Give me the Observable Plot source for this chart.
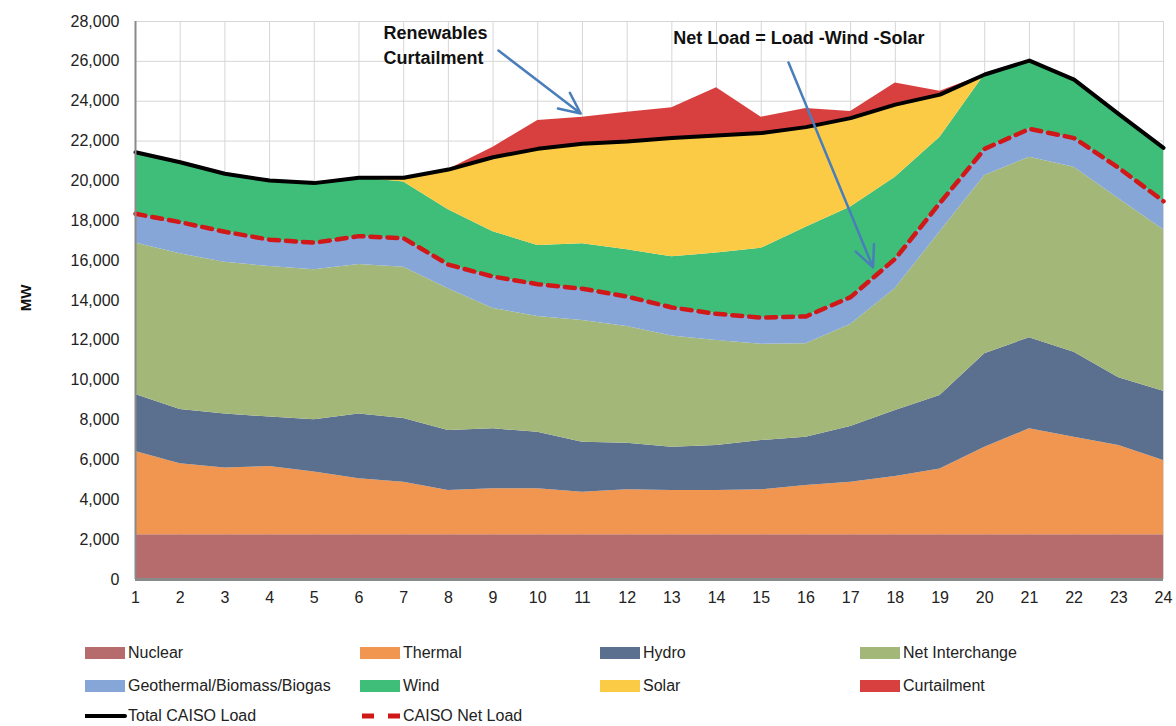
<!DOCTYPE html>
<html>
<head>
<meta charset="utf-8">
<script src="https://cdn.jsdelivr.net/npm/d3@7"></script>
<script src="https://cdn.jsdelivr.net/npm/@observablehq/plot@0.6"></script>
<style>
  html, body { margin: 0; padding: 0; background: #fff; }
  body { width: 1176px; height: 726px; overflow: hidden; font-family: "Liberation Sans", Arial, sans-serif; }
  #legend { position: relative; width: 1176px; height: 106px; font-size: 16px; color: #222; }
  .item { position: absolute; display: flex; align-items: center; white-space: nowrap; transform: translateY(-50%); }
  .sw { width: 40px; height: 12px; margin-right: 3px; }
</style>
</head>
<body>
<div id="chart"></div>
<div id="legend"></div>
<script>
const hours = [1,2,3,4,5,6,7,8,9,10,11,12,13,14,15,16,17,18,19,20,21,22,23,24];
const nuclear = [2250,2250,2250,2250,2250,2250,2250,2250,2250,2250,2250,2250,2250,2250,2250,2250,2250,2250,2250,2250,2250,2250,2250,2250];
const thermal = [4170,3560,3340,3420,3140,2800,2630,2220,2300,2300,2130,2250,2220,2220,2250,2470,2630,2920,3300,4390,5310,4890,4470,3720];
const hydro = [2860,2720,2720,2480,2620,3260,3200,3010,3010,2840,2510,2340,2170,2250,2475,2420,2800,3310,3680,4690,4570,4260,3400,3480];
const netInterchange = [7600,7810,7610,7550,7530,7500,7590,7110,6040,5810,6110,5860,5580,5270,4825,4690,5120,6120,8220,8940,9060,9290,8980,8100];
const geothermal = [1470,1590,1530,1350,1360,1420,1450,1210,1600,1620,1590,1500,1430,1340,1340,1370,1370,1500,1450,1340,1420,1460,1550,1430];
const wind = [3090,3010,2910,2970,2990,2930,2820,2750,2250,1940,2255,2350,2540,3050,3480,4480,4520,4090,3290,3730,3430,2930,2700,2680];
const solar = [0,0,0,0,0,0,220,2020,3740,4850,5015,5430,5970,5900,5780,5020,4460,3640,2140,0,0,0,0,0];
const curtailment = [0,0,0,0,0,0,0,0,500,1420,1340,1470,1510,2390,800,940,330,1090,170,0,0,0,0,0];
const totalLoad = [21440,20940,20360,20020,19890,20160,20160,20570,21190,21610,21860,21980,22160,22280,22400,22700,23150,23830,24330,25340,26040,25080,23350,21660];
const netLoad = [18350,17930,17450,17050,16900,17230,17120,15800,15200,14820,14590,14200,13650,13330,13140,13200,14170,16100,18900,21610,22610,22150,20650,18980];

const seriesNames = ["Nuclear","Thermal","Hydro","Net Interchange","Geothermal/Biomass/Biogas","Wind","Solar","Curtailment"];
const seriesValues = [nuclear, thermal, hydro, netInterchange, geothermal, wind, solar, curtailment];
const seriesColors = ["#B66B6C","#F09650","#5B6F8E","#A3B878","#86A6D8","#3EBE78","#FBCB45","#D8403F"];
const yTicks = [0,2000,4000,6000,8000,10000,12000,14000,16000,18000,20000,22000,24000,26000,28000];

const annoText = [
  {x: 6.55, y: 27400, text: "Renewables"},
  {x: 6.55, y: 26144, text: "Curtailment"},
  {x: 13.03, y: 27136, text: "Net Load = Load -Wind -Solar"}
];
const annoArrows = [
  {x1: 9.12, y1: 26545, x2: 10.96, y2: 23384},
  {x1: 15.61, y1: 25943, x2: 17.50, y2: 15660}
];

const stacked = [];
seriesNames.forEach((name, si) => {
  hours.forEach((h, i) => stacked.push({hour: h, value: seriesValues[si][i], series: name}));
});
const loadRows = hours.map((h, i) => ({hour: h, load: totalLoad[i], net: netLoad[i]}));

const chart = Plot.plot({
  width: 1176,
  height: 620,
  marginLeft: 135,
  marginRight: 13,
  marginTop: 21,
  marginBottom: 41,
  style: {fontFamily: "'Liberation Sans', Arial, sans-serif", fontSize: "16px", color: "#222", background: "#fff"},
  x: {domain: [1, 24], axis: null},
  y: {domain: [0, 28000], axis: null},
  color: {domain: seriesNames, range: seriesColors},
  marks: [
    Plot.gridY(yTicks, {stroke: "#d6d6d6", strokeOpacity: 1, strokeWidth: 1}),
    Plot.gridX(hours, {stroke: "#d6d6d6", strokeOpacity: 1, strokeWidth: 1}),
    Plot.areaY(stacked, {x: "hour", y: "value", fill: "series", order: seriesNames, curve: "linear"}),
    Plot.line(loadRows, {x: "hour", y: "net", stroke: "#D01818", strokeWidth: 4.5, strokeDasharray: "10,7"}),
    Plot.line(loadRows, {x: "hour", y: "load", stroke: "#000", strokeWidth: 4, strokeLinejoin: "round"}),
    Plot.ruleX([1], {stroke: "#8a8a8a", strokeWidth: 2}),
    Plot.ruleY([0], {stroke: "#8a8a8a", strokeWidth: 3}),
    Plot.axisY(yTicks, {tickSize: 0, tickPadding: 16, tickFormat: d3.format(","), fontSize: 16, fill: "#222", label: null}),
    Plot.axisX(hours, {tickSize: 0, tickPadding: 12, fontSize: 16, fill: "#222", label: null}),
    Plot.arrow(annoArrows, {x1: "x1", y1: "y1", x2: "x2", y2: "y2", stroke: "#4A7EBB", strokeWidth: 2.5, headLength: 14, headAngle: 50}),
    Plot.text(annoText, {x: "x", y: "y", text: "text", textAnchor: "start", fontWeight: "bold", fontSize: 18, fill: "#111"})
  ]
});
document.getElementById("chart").appendChild(chart);

// y axis title
const svg = d3.select(chart);
svg.append("text")
  .attr("transform", "translate(31,298) rotate(-90)")
  .attr("text-anchor", "middle")
  .attr("font-weight", "bold")
  .attr("font-size", 15)
  .attr("fill", "#111")
  .text("MW");

// legend
const legend = document.getElementById("legend");
const colX = [85, 360, 600, 860];
const rowY = [33, 66, 96];
const legendItems = seriesNames.map((name, i) => ({name, kind: "swatch", color: seriesColors[i], col: i % 4, row: Math.floor(i / 4)}));
legendItems.push({name: "Total CAISO Load", kind: "solid", color: "#000", col: 0, row: 2});
legendItems.push({name: "CAISO Net Load", kind: "dash", color: "#D01818", col: 1, row: 2});
legendItems.forEach(it => {
  const div = document.createElement("div");
  div.className = "item";
  div.style.left = colX[it.col] + "px";
  div.style.top = rowY[it.row] + "px";
  let sw;
  if (it.kind === "swatch") {
    sw = `<div class="sw" style="background:${it.color}"></div>`;
  } else if (it.kind === "solid") {
    sw = `<svg width="43" height="12"><line x1="0" y1="6" x2="40" y2="6" stroke="#000" stroke-width="4" stroke-linecap="round"/></svg>`;
  } else {
    sw = `<svg width="43" height="12"><line x1="2" y1="6" x2="40" y2="6" stroke="${it.color}" stroke-width="5" stroke-dasharray="12,14"/></svg>`;
  }
  div.innerHTML = sw + `<span>${it.name}</span>`;
  legend.appendChild(div);
});
</script>
</body>
</html>
